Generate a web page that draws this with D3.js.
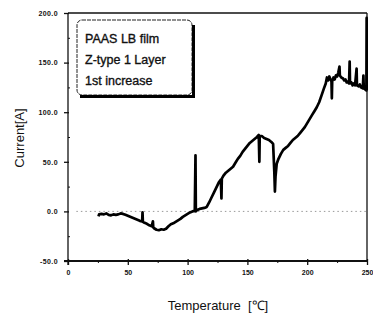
<!DOCTYPE html>
<html><head><meta charset="utf-8">
<script src="https://cdn.jsdelivr.net/npm/d3@7"></script>
<style>
html,body{margin:0;padding:0;background:#fff;}
svg{display:block;}
</style></head>
<body>
<svg id="chart" width="373" height="318"></svg>
<script>
const temperature = [25.5,26,28,30,32,34,36,38,40,42,44,46,48,50,52,54,56,58,60,62,62.3,62.6,64,66,68,70,71,71.3,72,74,76,78,80,82,84,86,88,90,92,94,96,98,100,102,104,106,106.6,106.9,108,110,112,114,116,118,120,122,124,126,127.8,128.3,128.6,130,132,134,136,138,140,142,144,146,148,150,152,154,156,158,159.5,160,160.3,162,164,166,168,170,171.5,172.5,173,173.5,174.5,176,178,180,182,184,186,188,190,192,194,196,198,200,202,204,206,208,210,212,214,215.5,216.5,217.5,218.5,219.5,220.3,220.6,220.9,222,223,224,225,226,227,227.3,228.5,230,231,232,233,234,235,235.5,235.8,237,238,239,240,241.3,241.6,243,244,245,246.5,247,247.3,248.5,249.5,249.7,250];
const current = [-5,-3,-2.5,-3,-2,-3.5,-4,-3,-3.5,-3,-2,-2.5,-3.5,-4.5,-5.5,-6.5,-7.5,-8.5,-9.5,-10,-1,-10.5,-11.5,-12.5,-14,-15,-10,-16,-17,-18.5,-19,-18,-18.5,-17.5,-15,-13,-12,-10.5,-9,-7.5,-5.5,-4,-2.5,-1,0,0.5,56.5,0,1.5,2.5,3,3.5,4.5,9,14,19,24,29,32,13,33,36,39,41,43,45,49,53,56,60,63,66,69,71,73,75,77,50,76,76,74,73,72,70,68,40,20,35,48,53,58,62,64,66,69,72,74,76,79,82,85,89,93,97,101,105,110,117,124,129,135,132,136,133,131,114,131,135,133,137,136,140,146,137,135,134,132,133,130,131,129,151,129,130,127,129,127,144,127,126,128,125,124,137,124,123,122,195,122];

const xTicks = [0,50,100,150,200,250];
const xTickLabels = ["0","50","100","150","200","250"];
const yTicks = [-50,0,50,100,150,200];
const yTickLabels = ["-50.0","0.0","50.0","100.0","150.0","200.0"];
const xMinor = [25,75,125,175,225];
const yMinor = [-25,25,75,125,175];
const legendLines = ["PAAS LB film","Z-type 1 Layer","1st increase"];

const L=68, R=367, T=13, B=261;
const FONT = "Liberation Sans, Arial, sans-serif";
const svg = d3.select("#chart");
const x = d3.scaleLinear().domain([0,250]).range([L,R]);
const y = d3.scaleLinear().domain([-50,200]).range([B,T]);

// frame top/right
svg.append("line").attr("x1",L).attr("x2",R).attr("y1",T).attr("y2",T).attr("stroke","#111").attr("stroke-width",1.3);
svg.append("line").attr("x1",R).attr("x2",R).attr("y1",T).attr("y2",B).attr("stroke","#111").attr("stroke-width",1.3);

// zero dotted line
svg.append("line").attr("x1",x(7)).attr("x2",R).attr("y1",y(0)).attr("y2",y(0))
  .attr("stroke","#999").attr("stroke-width",1).attr("stroke-dasharray","1.5,3");

// x axis
const gx = svg.append("g").attr("transform",`translate(0,${B})`)
  .call(d3.axisBottom(x).tickValues(xTicks).tickSize(4).tickSizeOuter(0).tickFormat((d,i)=>xTickLabels[i]));
gx.select(".domain").attr("stroke","#111").attr("stroke-width",2).attr("d",`M${L-4},0H${R}`);
gx.selectAll(".tick line").attr("stroke","#111").attr("y1",-2).attr("stroke-width",1.3);
gx.selectAll(".tick text").attr("font-family",FONT).attr("font-size","7px")
  .attr("font-weight","bold").attr("fill","#111").attr("dy","0.71em").attr("y",9);
const gxm = svg.append("g").attr("transform",`translate(0,${B})`)
  .call(d3.axisBottom(x).tickValues(xMinor).tickSize(2).tickFormat(""));
gxm.select(".domain").remove();
gxm.selectAll(".tick line").attr("stroke","#111");

// y axis
const gy = svg.append("g").attr("transform",`translate(${L},0)`)
  .call(d3.axisLeft(y).tickValues(yTicks).tickSize(4).tickSizeOuter(0).tickFormat((d,i)=>yTickLabels[i]));
gy.select(".domain").attr("stroke","#111").attr("stroke-width",1.3).attr("d",`M0,${T}V${B+4}`);
gy.selectAll(".tick line").attr("stroke","#111").attr("x2",-4).attr("x1",1).attr("stroke-width",1.3);
gy.selectAll(".tick text").attr("font-family",FONT).attr("font-size","7px")
  .attr("font-weight","bold").attr("fill","#111").attr("x",-10).attr("letter-spacing","0.4px");
const gym = svg.append("g").attr("transform",`translate(${L},0)`)
  .call(d3.axisRight(y).tickValues(yMinor).tickSize(2).tickFormat(""));
gym.select(".domain").remove();
gym.selectAll(".tick line").attr("stroke","#111");

// data line
svg.append("clipPath").attr("id","clip").append("rect").attr("x",L).attr("y",T).attr("width",R-L+1).attr("height",B-T);
const pts = temperature.map((t,i)=>[t,current[i]]);
svg.append("path").datum(pts).attr("clip-path","url(#clip)")
  .attr("d",d3.line().x(d=>x(d[0])).y(d=>y(d[1])))
  .attr("fill","none").attr("stroke","#000").attr("stroke-width",2.7).attr("stroke-linejoin","round");

// legend box with shadow
const lg = svg.append("g").attr("class","legend");
lg.append("rect").attr("x",77).attr("y",20).attr("width",115).attr("height",75).attr("rx",5)
  .attr("fill","#fff").attr("stroke","#222").attr("stroke-width",1).attr("stroke-dasharray","4,1");
lg.append("path").attr("d","M80,96.5H193.5V25")
  .attr("fill","none").attr("stroke","#000").attr("stroke-width",3);
lg.selectAll("text.leg").data(legendLines).enter().append("text").attr("class","leg")
  .attr("x",85).attr("y",(d,i)=>43+i*21).text(d=>d)
  .attr("font-family",FONT).attr("font-size","12.5px").attr("fill","#111")
  .attr("stroke","#111").attr("stroke-width",0.35);

// axis titles
svg.append("text").attr("transform","translate(24,138) rotate(-90)").attr("text-anchor","middle")
  .attr("font-family",FONT).attr("font-size","13px").attr("fill","#111").text("Current[A]");
svg.append("text").attr("x",218).attr("y",310).attr("text-anchor","middle")
  .attr("font-family",FONT).attr("font-size","13px").attr("fill","#111")
  .attr("xml:space","preserve").text("Temperature  [℃]");
</script>
</body></html>
